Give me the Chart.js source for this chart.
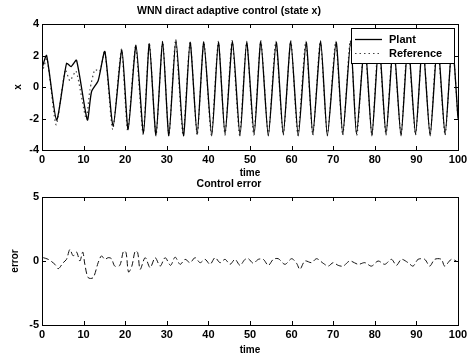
<!DOCTYPE html>
<html>
<head>
<meta charset="utf-8">
<script src="https://cdn.jsdelivr.net/npm/chart.js@4.4.0/dist/chart.umd.min.js"></script>
<style>
  html, body { margin: 0; padding: 0; background: #fff; }
  #wrap { position: relative; width: 475px; height: 357px; }
  canvas { position: absolute; left: 0; top: 0; }
</style>
</head>
<body>
<div id="wrap">
  <canvas id="stateChart" width="475" height="357"></canvas>
  <canvas id="errorChart" width="475" height="357"></canvas>
</div>
<script>
// values
const plantTime = [0, 1.1, 3.5, 5.9, 7.0, 8.3, 10.9, 11.9, 13.5, 15.1,
  17.1, 19.2, 20.7, 22.6, 24.4, 25.8, 27.4, 29.0, 30.5, 32.2,
  34.0, 35.6, 37.3, 38.9, 40.8, 42.4, 44.0, 45.8, 47.6, 49.2,
  51.0, 52.6, 54.4, 56.3, 58.0, 59.8, 61.6, 63.5, 65.1, 67.0,
  68.6, 70.7, 72.3, 74.2, 75.6, 77.6, 79.3, 81.0, 82.7, 84.5,
  86.3, 88.0, 89.8, 91.5, 93.3, 95.1, 96.9, 98.6, 100];
const plantValues = [1.2, 2.0, -2.1, 1.5, 1.3, 1.7, -2.1, -0.3, 0.4, 2.25,
  -2.5, 2.35, -2.7, 2.65, -2.95, 2.75, -3.05, 2.9, -3.1, 3.0,
  -3.1, 2.85, -3.0, 2.85, -3.1, 2.85, -3.0, 2.9, -3.1, 2.85,
  -3.0, 2.9, -3.1, 2.85, -3.0, 2.9, -3.1, 2.85, -3.0, 2.9,
  -3.1, 2.85, -3.0, 2.9, -3.0, 2.85, -3.1, 2.9, -3.0, 2.85,
  -3.1, 2.9, -3.0, 2.85, -3.1, 2.9, -3.0, 2.85, -2.0];

const refTime = [0, 1.2, 3.4, 5.6, 6.7, 8.2, 10.6, 11.5, 12.7, 13.9, 15.1,
  17.0, 19.1, 20.6, 22.5, 24.3, 25.8, 27.4, 29.0, 30.5, 32.1,
  33.9, 35.6, 37.3, 38.9, 40.7, 42.4, 44.0, 45.7, 47.5, 49.2,
  50.9, 52.6, 54.4, 56.2, 58.0, 59.8, 61.5, 63.4, 65.1, 66.9,
  68.6, 70.6, 72.3, 74.1, 75.7, 77.5, 79.3, 80.9, 82.7, 84.4,
  86.3, 87.9, 89.8, 91.5, 93.3, 95.0, 96.9, 98.6, 100];
const refValues = [0.9, 1.8, -2.4, 1.1, 0.4, 1.0, -2.0, -0.2, 1.1, 1.0, 2.3,
  -2.7, 2.4, -2.8, 2.6, -3.0, 2.8, -3.1, 2.9, -3.1, 2.95,
  -3.05, 2.9, -3.05, 2.9, -3.05, 2.9, -3.05, 2.95, -3.05, 2.9,
  -3.05, 2.95, -3.05, 2.9, -3.05, 2.95, -3.05, 2.9, -3.05, 2.95,
  -3.05, 2.9, -3.05, 2.95, -3.05, 2.9, -3.05, 2.95, -3.05, 2.9,
  -3.05, 2.95, -3.05, 2.9, -3.05, 2.95, -3.05, 2.9, -2.1];

const errorTime = [0.3, 1.5, 3.1, 3.9, 5.1, 5.9, 6.7, 7.5, 8.3, 9.1,
  9.8, 10.3, 11.1, 12.3, 13.5, 14.3, 15.1, 15.9, 16.7, 17.5,
  18.7, 19.6, 20.2, 20.8, 21.6, 22.4, 23.0, 23.6, 24.8, 26.0,
  27.2, 28.4, 29.6, 30.9, 32.0, 33.2, 34.4, 35.6, 36.8, 38.0,
  39.2, 40.4, 41.6, 42.8, 44.0, 45.2, 46.4, 47.6, 48.8, 49.6,
  50.8, 52.0, 53.2, 54.4, 55.6, 56.8, 58.4, 60.0, 61.2, 62.0,
  63.2, 64.8, 66.0, 67.6, 68.8, 70.0, 71.2, 72.4, 74.0, 76.0,
  77.6, 79.2, 80.8, 82.4, 84.0, 85.2, 86.4, 88.0, 89.2, 90.4,
  92.0, 93.2, 94.4, 96.0, 96.8, 98.4, 99.6];
const errorValues = [0.26, 0.13, -0.26, -0.6, -0.13, 0.13, 0.9, 0.4, 0.7, 0,
  0.7, -0.26, -1.3, -1.3, -0.13, 0.4, 0.13, 0.26, 0.18, -0.4,
  -0.34, 0.78, 0.65, -0.86, -0.4, 0.78, 0.65, -0.65, 0.26, -0.52,
  0.26, -0.4, 0.26, -0.34, 0.3, -0.26, 0.13, -0.13, 0.26, -0.13,
  0.13, -0.26, 0.26, -0.13, 0.13, -0.26, 0.13, -0.34, 0.13, 0.18,
  -0.18, 0.13, 0.13, -0.34, 0.13, 0.18, -0.26, 0.18, -0.18, -0.65,
  0, -0.13, 0.18, -0.18, -0.4, -0.13, -0.34, -0.4, 0, -0.26,
  -0.13, -0.4, 0, -0.26, 0.13, -0.34, 0.13, -0.13, -0.4, 0.13,
  0.13, -0.4, 0.13, 0.13, -0.4, 0.13, 0];

const timeRange = [0, 100];
const stateRange = [-4, 4];
const errorRange = [-5, 5];

const FONT = '"Liberation Sans", Arial, sans-serif';

const toPoints = (xs, ys) => xs.map((x, i) => ({ x, y: ys[i] }));

// MATLAB style box with inward ticks
const matlabAxes = {
  id: 'matlabAxes',
  afterDraw(chart) {
    const { ctx, chartArea, scales } = chart;
    const { left, right, top, bottom } = chartArea;
    ctx.save();
    ctx.strokeStyle = '#000';
    ctx.lineWidth = 1;
    ctx.setLineDash([]);
    ctx.strokeRect(Math.round(left) + 0.5, Math.round(top) + 0.5,
      Math.round(right - left), Math.round(bottom - top));
    ctx.beginPath();
    scales.x.ticks.forEach(tick => {
      const px = Math.round(scales.x.getPixelForValue(tick.value)) + 0.5;
      ctx.moveTo(px, bottom);
      ctx.lineTo(px, bottom - 4);
      ctx.moveTo(px, top);
      ctx.lineTo(px, top + 4);
    });
    scales.y.ticks.forEach(tick => {
      const py = Math.round(scales.y.getPixelForValue(tick.value)) + 0.5;
      ctx.moveTo(left, py);
      ctx.lineTo(left + 4, py);
      ctx.moveTo(right, py);
      ctx.lineTo(right - 4, py);
    });
    ctx.stroke();
    ctx.restore();
  }
};

// boxed legend in the upper right corner of the plot
const boxLegend = {
  id: 'boxLegend',
  afterDraw(chart) {
    const { ctx, chartArea } = chart;
    const boxRight = Math.round(chartArea.right) - 4;
    const boxLeft = boxRight - 103;
    const boxTop = Math.round(chartArea.top) + 4;
    const boxHeight = 35;

    ctx.save();
    ctx.fillStyle = '#fff';
    ctx.fillRect(boxLeft, boxTop, boxRight - boxLeft, boxHeight);
    ctx.strokeStyle = '#000';
    ctx.lineWidth = 1;
    ctx.strokeRect(boxLeft + 0.5, boxTop + 0.5, boxRight - boxLeft, boxHeight);

    ctx.font = `bold 11px ${FONT}`;
    ctx.textBaseline = 'middle';
    chart.data.datasets.forEach((ds, i) => {
      const rowY = boxTop + 11 + i * 14 + 0.5;
      ctx.strokeStyle = ds.borderColor;
      ctx.lineWidth = ds.borderWidth;
      ctx.setLineDash(ds.borderDash || []);
      ctx.beginPath();
      ctx.moveTo(boxLeft + 4, rowY);
      ctx.lineTo(boxLeft + 31, rowY);
      ctx.stroke();
      ctx.setLineDash([]);
      ctx.fillStyle = '#000';
      ctx.fillText(ds.label, boxLeft + 38, rowY);
    });
    ctx.restore();
  }
};

function axisOptions({ range, step, width, height, titleText, titlePad, which }) {
  const common = {
    type: 'linear',
    min: range[0],
    max: range[1],
    grid: { display: false, drawTicks: false },
    border: { display: false },
    ticks: {
      stepSize: step,
      color: '#000',
      padding: 3,
      maxRotation: 0,
      font: { family: FONT, size: 11, weight: 'bold' },
    },
    title: {
      display: true,
      text: titleText,
      color: '#000',
      font: { family: FONT, size: 10, weight: 'bold' },
      padding: titlePad,
    },
  };
  if (which === 'x') {
    common.afterFit = scale => { scale.height = height; };
  } else {
    common.afterFit = scale => { scale.width = width; };
  }
  return common;
}

new Chart(document.getElementById('stateChart'), {
  type: 'line',
  data: {
    datasets: [
      {
        label: 'Plant',
        data: toPoints(plantTime, plantValues),
        borderColor: '#000',
        borderWidth: 1.3,
        pointRadius: 0,
        tension: 0.2,
      },
      {
        label: 'Reference',
        data: toPoints(refTime, refValues),
        borderColor: '#444',
        borderWidth: 1.2,
        borderDash: [1.5, 3],
        pointRadius: 0,
        tension: 0.2,
      },
    ],
  },
  options: {
    responsive: false,
    animation: false,
    devicePixelRatio: 1,
    layout: { padding: { left: 0, right: 17, top: 0, bottom: 177 } },
    plugins: {
      legend: { display: false },
      tooltip: { enabled: false },
      title: {
        display: true,
        text: 'WNN diract adaptive control (state x)',
        color: '#000',
        font: { family: FONT, size: 10.5, weight: 'bold' },
        padding: { top: 5, bottom: 6.4 },
      },
    },
    scales: {
      x: axisOptions({ range: timeRange, step: 10, height: 30, titleText: 'time',
        titlePad: { top: 0, bottom: 1 }, which: 'x' }),
      y: axisOptions({ range: stateRange, step: 2, width: 42, titleText: 'x',
        titlePad: { top: 12, bottom: 0 }, which: 'y' }),
    },
  },
  plugins: [matlabAxes, boxLegend],
});

new Chart(document.getElementById('errorChart'), {
  type: 'line',
  data: {
    datasets: [
      {
        label: 'error',
        data: toPoints(errorTime, errorValues),
        borderColor: '#111',
        borderWidth: 1,
        borderDash: [6, 3],
        pointRadius: 0,
        tension: 0.3,
      },
    ],
  },
  options: {
    responsive: false,
    animation: false,
    devicePixelRatio: 1,
    layout: { padding: { left: 0, right: 17, top: 172, bottom: 0 } },
    plugins: {
      legend: { display: false },
      tooltip: { enabled: false },
      title: {
        display: true,
        text: 'Control error',
        color: '#000',
        font: { family: FONT, size: 10.5, weight: 'bold' },
        padding: { top: 6, bottom: 6.4 },
      },
    },
    scales: {
      x: axisOptions({ range: timeRange, step: 10, height: 32, titleText: 'time',
        titlePad: { top: 0, bottom: 1 }, which: 'x' }),
      y: axisOptions({ range: errorRange, step: 5, width: 42, titleText: 'error',
        titlePad: { top: 9, bottom: 0 }, which: 'y' }),
    },
  },
  plugins: [matlabAxes],
});
</script>
</body>
</html>
